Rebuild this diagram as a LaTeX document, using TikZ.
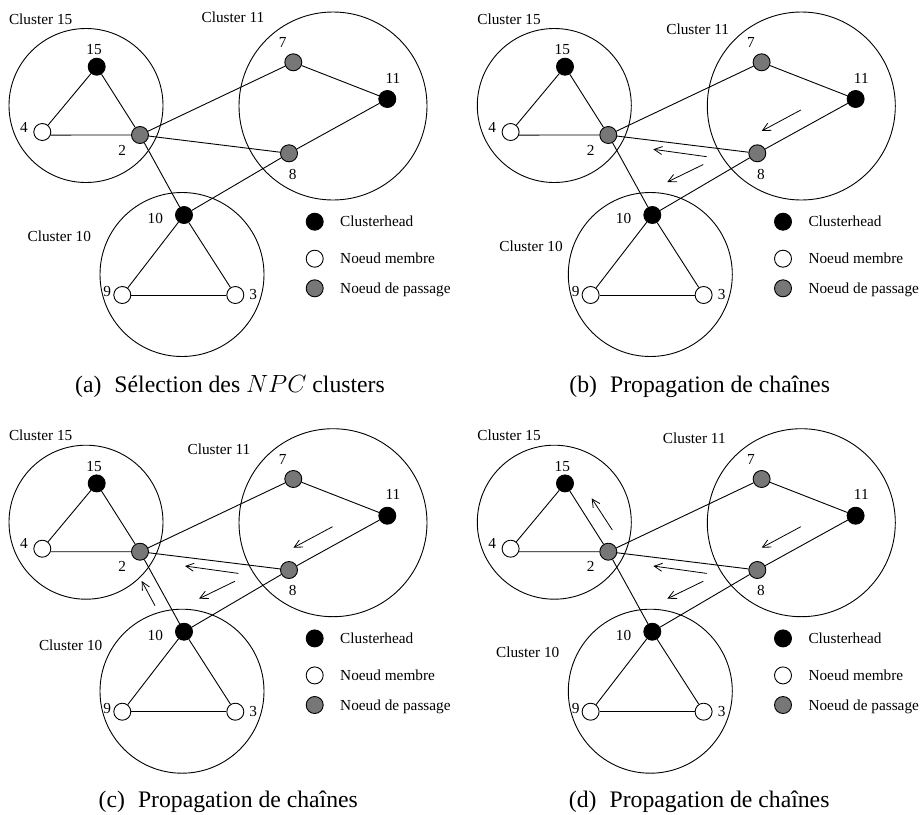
\documentclass[tikz,border=0pt]{standalone}
\usepackage{fontspec}
\setmainfont{Liberation Serif}
\usetikzlibrary{arrows.meta}
\definecolor{passgray}{RGB}{119,119,119}
\tikzset{
  vertex/.style={circle,draw,line width=0.9pt,minimum size=17pt,inner sep=0pt},
  chead/.style={vertex,fill=black},
  member/.style={vertex,fill=white},
  passage/.style={vertex,fill=passgray},
  zone/.style={circle,draw,line width=0.9pt,inner sep=0pt},
  link/.style={line width=0.9pt},
  flow/.style={line width=0.8pt,-{Straight Barb[length=8pt,width=8pt]}},
  lbl/.style={inner sep=0pt,font=\fontsize{15.3}{18}\selectfont},
  captext/.style={inner sep=0pt,font=\fontsize{23.7}{28}\selectfont},
}
% One network of three clusters with its legend.
% #1 = name prefix, #2 = position of "Cluster 11", #3 = position of "Cluster 10"
\newcommand\drawclusters[3]{%
  \node[zone,minimum size=154pt] (#1z15) at (86,105.5) {};
  \node[zone,minimum size=188pt] (#1z11) at (333,106) {};
  \node[zone,minimum size=164pt] (#1z10) at (182,274.5) {};
  \node[lbl] (#1t15c) at (40.7,19) {Cluster 15};
  \node[lbl] (#1t11c) at (#2) {Cluster 11};
  \node[lbl] (#1t10c) at (#3) {Cluster 10};
  \node[chead]   (#1n15) at (96.7,66.7) {};
  \node[member]  (#1n4)  at (42.3,132) {};
  \node[passage] (#1n2)  at (140,135) {};
  \node[passage] (#1n7)  at (293.3,62.3) {};
  \node[chead]   (#1n11) at (387.3,99) {};
  \node[passage] (#1n8)  at (289,153.3) {};
  \node[chead]   (#1n10) at (184,215) {};
  \node[member]  (#1n9)  at (122.3,295) {};
  \node[member]  (#1n3)  at (235.3,295) {};
  \draw[link] (#1n15) -- (#1n4);
  \draw[link] (#1n15) -- (#1n2);
  \draw[link] (#1n4.-20) -- (#1n2);
  \draw[link] (#1n2) -- (#1n7);
  \draw[link] (#1n2) -- (#1n8);
  \draw[link] (#1n2) -- (#1n10);
  \draw[link] (#1n7) -- (#1n11);
  \draw[link] (#1n11) -- (#1n8);
  \draw[link] (#1n8) -- (#1n10);
  \draw[link] (#1n10) -- (#1n9);
  \draw[link] (#1n10) -- (#1n3);
  \draw[link] (#1n9) -- (#1n3);
  \node[lbl] (#1l15) at (94,50) {15};
  \node[lbl] (#1l4)  at (24,127) {4};
  \node[lbl] (#1l2)  at (122.3,150) {2};
  \node[lbl] (#1l7)  at (282.7,42.7) {7};
  \node[lbl] (#1l11) at (393,78) {11};
  \node[lbl] (#1l8)  at (292.7,174) {8};
  \node[lbl] (#1l10) at (155.3,218.3) {10};
  \node[lbl] (#1l9)  at (107.3,291.7) {9};
  \node[lbl] (#1l3)  at (253.3,294.3) {3};
  \node[chead]   (#1k1) at (314.7,221.7) {};
  \node[member]  (#1k2) at (314.7,258.7) {};
  \node[passage] (#1k3) at (314.7,288.3) {};
  \node[lbl,anchor=base west] (#1k1t) at (340,226.7) {Clusterhead};
  \node[lbl,anchor=base west] (#1k2t) at (340,263.7) {Noeud membre};
  \node[lbl,anchor=base west] (#1k3t) at (340,293.3) {Noeud de passage};
}
% Chains flowing from cluster 11 towards clusters 15 and 10
\newcommand\drawchains[1]{%
  \coordinate (#1f1s) at (332.5,110);   \coordinate (#1f1e) at (293.4,131);
  \coordinate (#1f2s) at (238.4,156.7); \coordinate (#1f2e) at (185,149.3);
  \coordinate (#1f3s) at (235,164.5);   \coordinate (#1f3e) at (199,182);
  \draw[flow] (#1f1s) -- (#1f1e);
  \draw[flow] (#1f2s) -- (#1f2e);
  \draw[flow] (#1f3s) -- (#1f3e);
}
\begin{document}
\begin{tikzpicture}[x=1pt,y=-1pt]
  \useasboundingbox (0,0) rectangle (920,814);
  % (a)
  \begin{scope}
    \drawclusters{a}{233,17.7}{59.3,236}
    \node[captext] (acap) at (230,386.7) {(a)\hspace{0.55em}Sélection des $NPC$ clusters};
  \end{scope}
  % (b)
  \begin{scope}[shift={(468.3,0)}]
    \drawclusters{b}{229.4,29}{62.7,246.7}
    \drawchains{b}
    \node[captext] (bcap) at (231.4,386.7) {(b)\hspace{0.55em}Propagation de chaînes};
  \end{scope}
  % (c)
  \begin{scope}[shift={(0,416.7)}]
    \drawclusters{c}{219,32.3}{70.7,228.3}
    \drawchains{c}
    \coordinate (cf4s) at (155,189); \coordinate (cf4e) at (141.7,164.3);
    \draw[flow] (cf4s) -- (cf4e);
    \node[captext] (ccap) at (228.3,385) {(c)\hspace{0.55em}Propagation de chaînes};
  \end{scope}
  % (d)
  \begin{scope}[shift={(468.3,416.7)}]
    \drawclusters{d}{226,21.7}{59.4,235.7}
    \drawchains{d}
    \coordinate (df4s) at (144,113.3); \coordinate (df4e) at (123.4,81.6);
    \draw[flow] (df4s) -- (df4e);
    \node[captext] (dcap) at (230.9,385) {(d)\hspace{0.55em}Propagation de chaînes};
  \end{scope}
\end{tikzpicture}
\end{document}
